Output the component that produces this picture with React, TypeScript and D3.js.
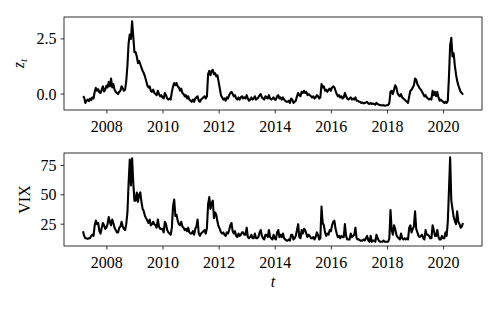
import React, { useEffect } from 'react';
import * as d3 from 'd3';

// semi-monthly samples, first one at START, one every half month
const START = 2007.15;
const STEP = 1 / 24;

const zValues = [
  -0.1, -0.15, -0.4, -0.3, -0.25, -0.32, -0.2, -0.28, -0.15, -0.2, 0.1, 0.28, 0.15, 0.22, 0.08, 0.05, 0.2, 0.35, 0.12, 0.2, 0.38, // 2007
  0.3, 0.55, 0.35, 0.7, 0.3, 0.45, 0.2, 0.1, 0.05, 0.0, 0.1, 0.15, 0.35, 0.25, 0.15, 0.2, 0.6, 1.3, 2.3, 2.7, 2.5, 3.3, 2.6, 1.9, // 2008
  1.9, 1.7, 1.4, 1.5, 1.35, 1.2, 1.05, 0.95, 0.8, 0.6, 0.4, 0.3, 0.35, 0.15, 0.1, 0.2, 0.05, 0.0, -0.05, 0.15, 0.0, -0.1, -0.05, -0.15, // 2009
  -0.2, 0.05, -0.05, -0.2, -0.25, -0.2, -0.25, 0.1, 0.35, 0.5, 0.4, 0.5, 0.35, 0.3, 0.15, 0.25, 0.05, 0.0, -0.1, -0.05, -0.2, -0.1, -0.25, -0.3, // 2010
  -0.35, -0.25, -0.35, -0.2, -0.15, -0.1, -0.3, -0.35, -0.25, -0.2, -0.15, -0.1, -0.2, -0.1, 0.9, 1.05, 0.85, 1.05, 1.1, 0.9, 0.95, 0.8, 0.85, 0.55, // 2011
  0.25, -0.05, -0.15, -0.25, -0.2, -0.3, -0.15, -0.2, -0.05, 0.05, 0.1, 0.0, -0.1, -0.05, -0.2, -0.25, -0.15, -0.25, -0.15, -0.1, -0.2, -0.15, -0.2, -0.05, // 2012
  -0.2, -0.3, -0.25, -0.15, -0.25, -0.2, -0.1, -0.25, -0.2, -0.15, -0.05, 0.0, -0.15, -0.2, -0.25, -0.1, -0.15, -0.2, -0.05, -0.2, -0.25, -0.2, -0.15, -0.25, // 2013
  -0.25, -0.1, -0.05, -0.2, -0.15, -0.25, -0.15, -0.25, -0.3, -0.35, -0.35, -0.3, -0.4, -0.2, -0.25, -0.4, -0.35, -0.3, -0.1, 0.05, -0.05, -0.1, 0.1, 0.05, // 2014
  0.15, 0.05, 0.1, -0.05, 0.0, -0.05, -0.1, -0.15, -0.1, -0.2, -0.15, -0.05, -0.1, -0.2, -0.15, 0.45, 0.3, 0.35, 0.15, 0.2, 0.1, 0.2, 0.25, 0.15, // 2015
  0.3, 0.35, 0.3, 0.15, 0.0, -0.1, -0.05, -0.15, -0.1, -0.2, -0.15, 0.05, -0.1, -0.2, -0.25, -0.2, -0.15, -0.25, -0.2, -0.25, -0.15, -0.3, -0.3, -0.35, // 2016
  -0.35, -0.4, -0.38, -0.42, -0.4, -0.38, -0.35, -0.42, -0.45, -0.4, -0.45, -0.43, -0.45, -0.48, -0.4, -0.45, -0.48, -0.5, -0.5, -0.52, -0.5, -0.53, -0.52, -0.5, // 2017
  -0.5, -0.4, 0.1, 0.15, 0.0, 0.2, 0.4, 0.3, 0.05, -0.05, -0.1, 0.0, -0.15, -0.2, -0.25, -0.3, -0.35, -0.4, -0.1, 0.15, 0.2, 0.3, 0.4, 0.7, // 2018
  0.65, 0.45, 0.35, 0.25, 0.2, 0.1, 0.0, -0.1, -0.05, -0.15, -0.2, -0.25, -0.2, -0.25, 0.15, -0.05, 0.1, -0.1, 0.1, -0.15, -0.3, -0.25, -0.3, -0.35, // 2019
  -0.4, -0.35, -0.4, -0.3, 0.8, 2.2, 2.55, 1.7, 1.85, 1.3, 0.9, 0.6, 0.4, 0.25, 0.1, 0.05, -0.03, // 2020
];

const vixValues = [
  19, 15, 13, 13, 12.5, 13, 13, 15, 16, 15, 24, 28, 25, 26, 19, 17, 22, 26, 24, 21, 22, // 2007
  25, 31, 27, 24, 29, 26, 22, 20, 18, 18, 22, 23, 27, 23, 21, 20, 25, 35, 60, 80, 58, 81, 60, 45, // 2008
  45, 52, 44, 50, 52, 44, 38, 36, 32, 30, 28, 26, 29, 24, 25, 27, 25, 24, 22, 29, 23, 21, 21, 21, // 2009
  18, 27, 25, 20, 18, 17, 16, 22, 40, 46, 32, 33, 28, 25, 24, 27, 23, 22, 20, 21, 19, 22, 18, 17, // 2010
  17, 19, 16, 21, 23, 29, 17, 15, 17, 18, 19, 20, 17, 22, 42, 48, 38, 43, 45, 30, 35, 33, 27, 23, // 2011
  21, 18, 17, 18, 16, 15, 18, 17, 20, 24, 26, 19, 17, 19, 15, 14, 17, 15, 16, 18, 18, 16, 16, 22, // 2012
  14, 13, 14, 16, 13, 13, 17, 13, 13, 14, 18, 20, 15, 13, 12, 16, 16, 14, 20, 14, 13, 12, 16, 13, // 2013
  12, 18, 20, 14, 16, 14, 17, 13, 12, 11, 11, 12, 11, 16, 16, 12, 13, 15, 20, 25, 14, 13, 20, 17, // 2014
  21, 20, 17, 14, 16, 15, 13, 13, 14, 12, 14, 18, 16, 12, 13, 40, 26, 24, 18, 15, 17, 16, 20, 19, // 2015
  24, 27, 28, 21, 17, 14, 15, 13, 15, 14, 14, 25, 15, 12, 12, 12, 17, 14, 15, 16, 22, 13, 12, 12, // 2016
  11, 11, 11, 12, 11, 13, 15, 11, 10, 15, 10, 11, 11, 10, 16, 13, 11, 10, 10, 10, 11, 10, 10, 10, // 2017
  10, 13, 37, 20, 16, 24, 21, 16, 14, 13, 12, 17, 13, 12, 13, 12, 13, 12, 22, 24, 18, 21, 23, 36, // 2018
  21, 18, 15, 14, 15, 16, 13, 12, 20, 16, 16, 15, 13, 13, 24, 20, 15, 15, 20, 14, 12, 12, 15, 13, // 2019
  13, 18, 15, 27, 54, 82, 45, 38, 31, 28, 25, 36, 27, 25, 22, 23, 26, // 2020
];

const yearTicks = [2008, 2010, 2012, 2014, 2016, 2018, 2020];
const zTicks = [0, 2.5];
const vixTicks = [25, 50, 75];

const W = 500;
const H = 309;
const left = 64;
const right = 482;
const FONT = "'Liberation Serif', 'DejaVu Serif', serif";

// matplotlib style 5% margins
const padded = (vals: number[]): [number, number] => {
  const [lo, hi] = d3.extent(vals) as [number, number];
  const m = (hi - lo) * 0.05;
  return [lo - m, hi + m];
};

const dates = zValues.map((_, i) => START + i * STEP);
const x = d3.scaleLinear().domain(padded(dates)).range([left, right]);

type PanelProps = {
  values: number[];
  ticks: number[];
  fmt: (v: number) => string;
  top: number;
  bottom: number;
  label: React.ReactNode;
  labelX: number;
};

const Panel = ({ values, ticks, fmt, top, bottom, label, labelX }: PanelProps) => {
  const y = d3.scaleLinear().domain(padded(values)).range([bottom, top]);
  const line = d3.line<number>()
    .x((_, i) => x(dates[i]))
    .y(d => y(d));
  const midY = (top + bottom) / 2;
  return (
    <g>
      <path d={line(values) ?? ''} fill="none" stroke="#000" strokeWidth={2.1} strokeLinejoin="round" />
      <rect x={left} y={top} width={right - left} height={bottom - top} fill="none" stroke="#000" strokeWidth={0.8} />
      {yearTicks.map(t => (
        <g key={t}>
          <line x1={x(t)} x2={x(t)} y1={bottom} y2={bottom + 3.5} stroke="#000" strokeWidth={0.8} />
          <text x={x(t)} y={bottom + 22} textAnchor="middle" fontSize={16}>{t}</text>
        </g>
      ))}
      {ticks.map(t => (
        <g key={t}>
          <line x1={left - 3.5} x2={left} y1={y(t)} y2={y(t)} stroke="#000" strokeWidth={0.8} />
          <text x={56.5} y={y(t)} dy="0.35em" textAnchor="end" fontSize={16}>{fmt(t)}</text>
        </g>
      ))}
      <text transform={`translate(${labelX},${midY}) rotate(-90)`} textAnchor="middle" fontSize={16}>{label}</text>
    </g>
  );
};

export default function App() {
  useEffect(() => {
    document.body.style.margin = '0';
  }, []);

  return (
    <svg width={W} height={H} style={{ display: 'block', background: '#fff', fontFamily: FONT }}>
      <Panel
        values={zValues}
        ticks={zTicks}
        fmt={d3.format('.1f')}
        top={17}
        bottom={110}
        labelX={24}
        label={<><tspan fontStyle="italic">z</tspan><tspan fontStyle="italic" fontSize={11} dy={3}>t</tspan></>}
      />
      <Panel
        values={vixValues}
        ticks={vixTicks}
        fmt={d3.format('d')}
        top={153}
        bottom={246}
        labelX={30}
        label="VIX"
      />
      <text x={(left + right) / 2} y={287} textAnchor="middle" fontSize={16} fontStyle="italic">t</text>
    </svg>
  );
}
